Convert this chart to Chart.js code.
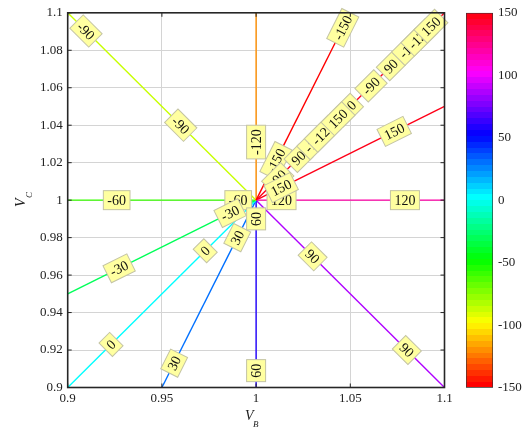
<!DOCTYPE html>
<html>
<head>
<meta charset="utf-8">
<script src="https://cdn.jsdelivr.net/npm/chart.js@4.4.1/dist/chart.umd.min.js"></script>
<style>
  html, body { margin: 0; padding: 0; background: #fff; }
  #wrap { position: relative; width: 531px; height: 428px; }
  #main { position: absolute; left: 0; top: 0; }
  #bar { position: absolute; left: 440px; top: 0; }
</style>
</head>
<body>
<div id="wrap">
  <canvas id="main" width="531" height="428"></canvas>
  <canvas id="bar" width="91" height="428"></canvas>
</div>
<script>
// contour levels: every level is a straight line out of the point (1, 1)
const levels = [-150, -120, -90, -60, -30, 0, 30, 60, 90, 120, 150, 150];
const endX = [1.05, 1, 0.9, 0.9, 0.9, 0.9, 0.95, 1, 1.1, 1.1, 1.1, 1.1];
const endY = [1.1, 1.1, 1.1, 1, 0.95, 0.9, 0.9, 0.9, 0.9, 1, 1.05, 1.1];

// contour labels (drawn in this order, later ones on top)
const labelText = ['-90', '-90', '-120', '-60', '-60', '0', '0', '30', '30', '60',
  '90', '90', '120', '120', '150', '-150', '-150',
  '-90', '90', '-150', '-120', '120', '150', '-90', '90', '-150', '-120', '150',
  '-30', '-30', '60', '150'];
const labelX = [0.9097, 0.96, 1, 0.926, 0.9905, 0.923, 0.973, 0.9565, 0.99, 1,
  1.03, 1.08, 1.079, 1.0135, 1.0733, 1.046, 1.0105,
  1.0115, 1.0225, 1.0315, 1.0355, 1.048, 1.0435, 1.061, 1.0715, 1.0818, 1.0868, 1.0928,
  0.9273, 0.9862, 1, 1.0133];
const labelY = [1.0903, 1.04, 1.031, 1, 1, 0.923, 0.973, 0.913, 0.98, 0.909,
  0.97, 0.92, 1, 1, 1.0367, 1.092, 1.021,
  1.0115, 1.0225, 1.0315, 1.0355, 1.048, 1.0435, 1.061, 1.0715, 1.0818, 1.0868, 1.0928,
  0.9636, 0.9931, 0.99, 1.0067];

const xTicks = [0.9, 0.95, 1, 1.05, 1.1];
const yTicks = [0.9, 0.92, 0.94, 0.96, 0.98, 1, 1.02, 1.04, 1.06, 1.08, 1.1];
const cbTicks = [-150, -100, -50, 0, 50, 100, 150];
const cbMin = -150, cbMax = 150;

const serif = 'Liberation Serif';

// hsv colormap, 64 steps like MATLAB
function hsv(h) {
  const i = Math.floor(h * 6), f = h * 6 - i;
  const q = 1 - f;
  const rgb = [[1, f, 0], [q, 1, 0], [0, 1, f], [0, q, 1], [f, 0, 1], [1, 0, q]][i % 6];
  return 'rgb(' + rgb.map(c => Math.round(c * 255)).join(',') + ')';
}
function levelColor(v) {
  const idx = Math.round((v - cbMin) / (cbMax - cbMin) * 63);
  return hsv(idx / 64);
}

const datasets = levels.map((v, i) => ({
  data: [{ x: 1, y: 1 }, { x: endX[i], y: endY[i] }],
  borderColor: levelColor(v),
  borderWidth: 1.4,
  showLine: true,
  pointRadius: 0
}));

// yellow boxes with the level value, turned along the line
const labelPlugin = {
  id: 'labels',
  afterDatasetsDraw(chart) {
    const { ctx, scales: { x, y } } = chart;
    const cx = x.getPixelForValue(1), cy = y.getPixelForValue(1);
    ctx.save();
    ctx.font = '14px ' + serif;
    ctx.textAlign = 'center';
    ctx.textBaseline = 'middle';
    labelText.forEach((t, i) => {
      const px = x.getPixelForValue(labelX[i]);
      const py = y.getPixelForValue(labelY[i]);
      let a = Math.atan2(py - cy, px - cx) * 180 / Math.PI;
      if (a >= 90) a -= 180;
      if (a < -90) a += 180;
      const w = ctx.measureText(t).width + 8;
      const h = 19;
      ctx.save();
      ctx.translate(px, py);
      ctx.rotate(a * Math.PI / 180);
      ctx.fillStyle = '#ffffa0';
      ctx.fillRect(-w / 2, -h / 2, w, h);
      ctx.strokeStyle = '#c4c4a4';
      ctx.lineWidth = 1;
      ctx.strokeRect(-w / 2, -h / 2, w, h);
      ctx.fillStyle = '#111';
      ctx.fillText(t, 0, 1);
      ctx.restore();
    });
    ctx.restore();
  }
};

// box frame, inward ticks and the V_B / V_C titles
const framePlugin = {
  id: 'frame',
  afterDraw(chart) {
    const { ctx, chartArea: a, scales: { x, y } } = chart;
    ctx.save();
    ctx.strokeStyle = '#262626';
    ctx.lineWidth = 1;
    xTicks.forEach(v => {
      const px = x.getPixelForValue(v);
      ctx.beginPath();
      ctx.moveTo(px, a.bottom); ctx.lineTo(px, a.bottom - 4);
      ctx.moveTo(px, a.top); ctx.lineTo(px, a.top + 4);
      ctx.stroke();
    });
    yTicks.forEach(v => {
      const py = y.getPixelForValue(v);
      ctx.beginPath();
      ctx.moveTo(a.left, py); ctx.lineTo(a.left + 4, py);
      ctx.moveTo(a.right, py); ctx.lineTo(a.right - 4, py);
      ctx.stroke();
    });
    ctx.lineWidth = 1.6;
    ctx.strokeRect(a.left, a.top, a.right - a.left, a.bottom - a.top);

    ctx.fillStyle = '#222';
    ctx.textAlign = 'left';
    ctx.textBaseline = 'alphabetic';
    ctx.font = 'italic 14px ' + serif;
    ctx.fillText('V', 245, 420);
    ctx.font = 'italic 9px ' + serif;
    ctx.fillText('B', 253, 427);

    ctx.translate(25, 207);
    ctx.rotate(-Math.PI / 2);
    ctx.font = 'italic 14px ' + serif;
    ctx.fillText('V', 0, 0);
    ctx.font = 'italic 9px ' + serif;
    ctx.fillText('C', 9, 7);
    ctx.restore();
  }
};

const tickFont = { family: serif, size: 13 };

new Chart(document.getElementById('main'), {
  type: 'scatter',
  data: { datasets: datasets },
  options: {
    responsive: false,
    animation: false,
    layout: { padding: { top: 10.7, right: 86.5, left: 0, bottom: 0 } },
    plugins: { legend: { display: false }, tooltip: { enabled: false } },
    scales: {
      x: {
        type: 'linear', min: 0.9, max: 1.1,
        afterBuildTicks: s => { s.ticks = xTicks.map(v => ({ value: v })); },
        afterFit: s => { s.height = 40.5; },
        ticks: { font: tickFont, color: '#222', padding: 3, autoSkip: false, maxRotation: 0,
          callback: v => String(v) },
        grid: { color: '#d4d4d4', drawTicks: false },
        border: { display: false }
      },
      y: {
        type: 'linear', min: 0.9, max: 1.1,
        afterBuildTicks: s => { s.ticks = yTicks.map(v => ({ value: v })); },
        afterFit: s => { s.width = 67.7; },
        ticks: { font: tickFont, color: '#222', padding: 5, autoSkip: false,
          callback: v => String(v) },
        grid: { color: '#d4d4d4', drawTicks: false },
        border: { display: false }
      }
    }
  },
  plugins: [labelPlugin, framePlugin]
});

// colorbar: one floating bar from min to max, painted with the banded colormap
new Chart(document.getElementById('bar'), {
  type: 'bar',
  data: {
    labels: [''],
    datasets: [{
      data: [[cbMin, cbMax]],
      backgroundColor: ctx => {
        const a = ctx.chart.chartArea;
        if (!a) return 'red';
        const g = ctx.chart.ctx.createLinearGradient(0, a.bottom, 0, a.top);
        for (let i = 0; i < 64; i++) {
          const c = hsv(i / 64);
          g.addColorStop(i / 64, c);
          g.addColorStop((i + 1) / 64, c);
        }
        return g;
      },
      borderColor: '#333',
      borderWidth: 1,
      borderSkipped: false,
      barPercentage: 1,
      categoryPercentage: 1
    }]
  },
  options: {
    responsive: false,
    animation: false,
    layout: { padding: { top: 10, left: 26, right: 0, bottom: 40.3 } },
    plugins: { legend: { display: false }, tooltip: { enabled: false } },
    scales: {
      x: { display: false },
      y: {
        position: 'right', min: cbMin, max: cbMax,
        afterBuildTicks: s => { s.ticks = cbTicks.map(v => ({ value: v })); },
        afterFit: s => { s.width = 38; },
        ticks: { font: tickFont, color: '#222', padding: 5 },
        grid: { display: false, drawTicks: false },
        border: { display: false }
      }
    }
  }
});
</script>
</body>
</html>
